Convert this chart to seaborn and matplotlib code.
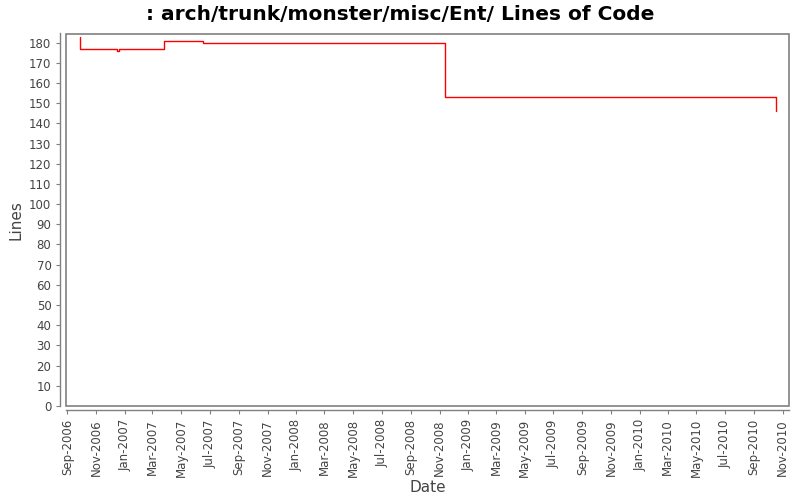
import pandas as pd
import matplotlib
matplotlib.use("Agg")
import matplotlib.pyplot as plt
import matplotlib.dates as mdates
from matplotlib.patches import Rectangle
import seaborn as sns

# commit dates and line counts
dates = ["2006-09-28", "2006-09-28", "2006-12-15", "2006-12-19", "2007-03-25",
         "2007-06-16", "2008-11-13", "2010-10-17", "2010-10-17"]
lines = [183, 177, 176, 177, 181, 180, 153, 153, 146]
yticks = list(range(0, 190, 10))

df = pd.DataFrame({"date": pd.to_datetime(dates), "lines": lines})

sns.set_style("white")
plt.rcParams["font.family"] = ["DejaVu Sans"]

fig = plt.figure(figsize=(8, 5), dpi=100)
ax = fig.add_axes([0.0825, 0.188, 0.9035, 0.745])

sns.lineplot(data=df, x="date", y="lines", estimator=None, sort=False,
             drawstyle="steps-post", color="red", linewidth=1, ax=ax)

ax.set_xlim(pd.Timestamp("2006-08-29"), pd.Timestamp("2010-11-14"))
ax.set_ylim(0, 184.5)
ax.set_yticks(yticks)

ax.xaxis.set_major_locator(mdates.MonthLocator(bymonth=[1, 3, 5, 7, 9, 11]))
ax.xaxis.set_major_formatter(mdates.DateFormatter("%b-%Y"))

gray = "#808080"
for side in ["top", "right"]:
    ax.spines[side].set_visible(False)
ax.spines["left"].set_position(("outward", 4))
ax.spines["bottom"].set_position(("outward", 3))
for side in ["left", "bottom"]:
    ax.spines[side].set_color(gray)
    ax.spines[side].set_linewidth(1)
ax.add_patch(Rectangle((0, 0), 1, 1, transform=ax.transAxes, fill=False,
                       edgecolor=gray, linewidth=1.2, clip_on=False))

ax.tick_params(axis="both", direction="out", length=3, width=0.8, color=gray,
               labelsize=8.5, labelcolor="#444444", bottom=True, left=True)
ax.tick_params(axis="x", labelrotation=90)

ax.set_xlabel("Date", fontsize=11, color="#444444", labelpad=2)
ax.set_ylabel("Lines", fontsize=11, color="#444444", labelpad=4)
fig.suptitle(": arch/trunk/monster/misc/Ent/ Lines of Code", fontsize=14.5,
             fontweight="bold", color="black", x=0.5, y=0.99)

fig.savefig("out.png", dpi=100)
